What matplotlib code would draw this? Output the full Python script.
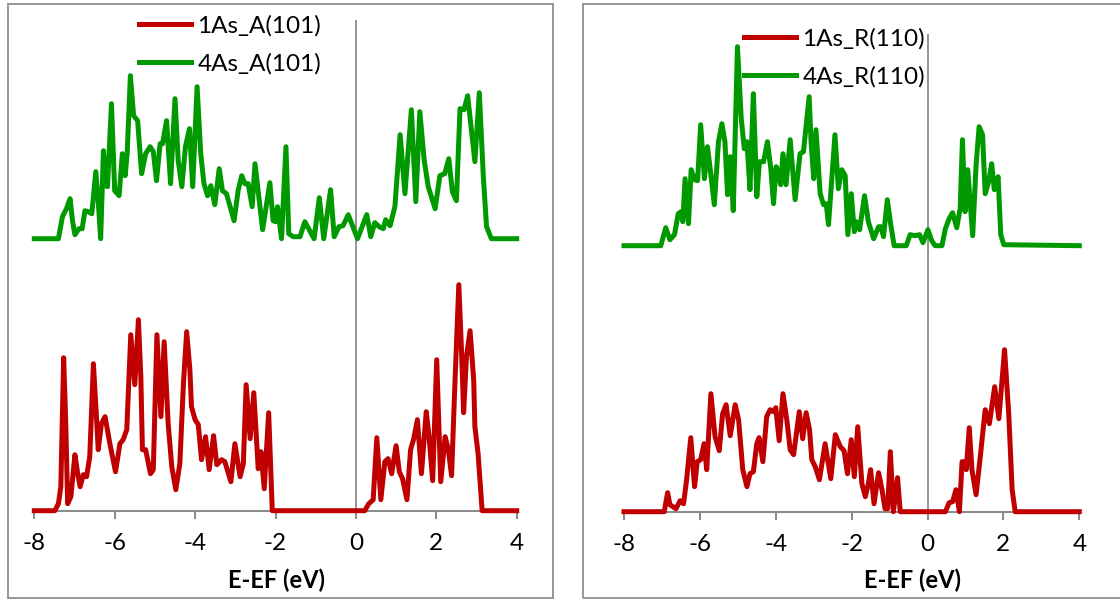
import matplotlib.pyplot as plt
from matplotlib.patches import Rectangle

plt.rcParams['font.family'] = ['Lato', 'DejaVu Sans']
plt.rcParams['axes.unicode_minus'] = False

# energy axis ticks and legend labels
energy_ticks = [-8, -6, -4, -2, 0, 2, 4]
labels_A = ['1As_A(101)', '4As_A(101)']
labels_R = ['1As_R(110)', '4As_R(110)']
xlabel = 'E-EF (eV)'

# vertical shift of the 4As curves (arb. units)
offset_A = 272
offset_R = 266

# (E-EF in eV, DOS in arb. units)
dos_1As_A = [(-8.0, 0), (-7.49, 0), (-7.40, 7), (-7.34, 24), (-7.27, 153), (-7.22, 91), (-7.17, 7),
             (-7.09, 14), (-6.99, 56), (-6.92, 37), (-6.86, 24), (-6.78, 36), (-6.70, 34), (-6.62, 54),
             (-6.53, 147), (-6.45, 91), (-6.41, 61), (-6.33, 87), (-6.24, 94), (-6.12, 67), (-5.98, 39),
             (-5.87, 67), (-5.79, 71), (-5.70, 81), (-5.60, 176), (-5.50, 126), (-5.41, 191), (-5.35, 134),
             (-5.31, 61), (-5.23, 61), (-5.11, 37), (-5.04, 41), (-4.95, 176), (-4.85, 94), (-4.77, 169),
             (-4.67, 87), (-4.58, 44), (-4.48, 21), (-4.38, 47), (-4.29, 127), (-4.21, 179), (-4.13, 141),
             (-4.09, 104), (-4.00, 91), (-3.92, 86), (-3.84, 51), (-3.74, 74), (-3.65, 41), (-3.54, 75),
             (-3.46, 46), (-3.34, 51), (-3.26, 49), (-3.11, 29), (-3.01, 67), (-2.88, 34), (-2.80, 47),
             (-2.73, 126), (-2.63, 72), (-2.54, 118), (-2.43, 42), (-2.36, 59), (-2.28, 22), (-2.17, 98),
             (-2.08, 0), (0.22, 0), (0.32, 7), (0.43, 11), (0.52, 73), (0.62, 11), (0.72, 49), (0.80, 52),
             (0.89, 37), (1.00, 65), (1.08, 39), (1.16, 32), (1.27, 11), (1.36, 61), (1.44, 72), (1.53, 91),
             (1.63, 37), (1.75, 99), (1.82, 74), (1.91, 30), (2.01, 151), (2.11, 29), (2.22, 74), (2.30, 61),
             (2.38, 35), (2.46, 124), (2.56, 226), (2.63, 157), (2.68, 98), (2.75, 154), (2.84, 180),
             (2.93, 131), (2.96, 84), (3.04, 57), (3.14, 0), (4.0, 0)]

dos_4As_A = [(-8.0, 0), (-7.40, 0), (-7.30, 22), (-7.20, 30), (-7.11, 40), (-7.05, 18), (-6.99, 4),
             (-6.89, 10), (-6.81, 10), (-6.74, 28), (-6.66, 27), (-6.57, 25), (-6.47, 67), (-6.41, 38),
             (-6.35, 0), (-6.28, 88), (-6.22, 53), (-6.18, 52), (-6.08, 135), (-6.00, 48), (-5.89, 43),
             (-5.81, 85), (-5.74, 63), (-5.69, 85), (-5.61, 163), (-5.53, 123), (-5.43, 118), (-5.33, 65),
             (-5.23, 85), (-5.12, 92), (-5.04, 87), (-4.96, 58), (-4.87, 95), (-4.81, 95), (-4.71, 118),
             (-4.61, 55), (-4.50, 140), (-4.42, 78), (-4.33, 52), (-4.24, 92), (-4.14, 110), (-4.06, 52),
             (-3.95, 152), (-3.86, 85), (-3.78, 55), (-3.69, 43), (-3.61, 53), (-3.51, 34), (-3.40, 70),
             (-3.32, 48), (-3.22, 45), (-3.03, 18), (-2.93, 48), (-2.84, 63), (-2.76, 55), (-2.68, 55),
             (-2.58, 32), (-2.51, 75), (-2.32, 9), (-2.14, 56), (-2.06, 18), (-2.00, 17), (-1.95, 32),
             (-1.89, 13), (-1.85, 0), (-1.74, 92), (-1.67, 5), (-1.56, 2), (-1.39, 2), (-1.27, 17),
             (-1.04, 0), (-0.91, 41), (-0.80, 0), (-0.63, 49), (-0.54, 2), (-0.42, 12), (-0.32, 13),
             (-0.19, 24), (0.04, 0), (0.27, 24), (0.37, 2), (0.47, 16), (0.58, 12), (0.68, 10), (0.74, 19),
             (0.85, 13), (0.97, 32), (1.10, 104), (1.22, 45), (1.38, 129), (1.49, 37), (1.59, 127),
             (1.70, 78), (1.80, 52), (1.97, 30), (2.09, 63), (2.21, 65), (2.31, 80), (2.40, 47), (2.50, 38),
             (2.59, 130), (2.69, 129), (2.78, 143), (2.96, 77), (3.07, 146), (3.17, 62), (3.25, 12),
             (3.37, 0), (4.0, 0)]

dos_1As_R = [(-8.0, 0), (-6.94, 0), (-6.85, 19), (-6.79, 7), (-6.63, 3), (-6.52, 11), (-6.43, 8),
             (-6.35, 32), (-6.24, 74), (-6.14, 25), (-6.07, 50), (-5.98, 52), (-5.89, 68), (-5.82, 42),
             (-5.71, 118), (-5.60, 75), (-5.49, 61), (-5.40, 98), (-5.31, 107), (-5.20, 76), (-5.07, 107),
             (-4.98, 92), (-4.87, 42), (-4.76, 25), (-4.68, 38), (-4.59, 40), (-4.50, 68), (-4.44, 74),
             (-4.34, 50), (-4.24, 95), (-4.15, 102), (-4.06, 100), (-4.00, 104), (-3.91, 71), (-3.81, 118),
             (-3.71, 92), (-3.62, 62), (-3.53, 57), (-3.38, 100), (-3.29, 73), (-3.20, 99), (-3.11, 82),
             (-3.05, 52), (-2.96, 45), (-2.85, 32), (-2.70, 68), (-2.55, 33), (-2.43, 77), (-2.30, 65),
             (-2.20, 61), (-2.11, 38), (-2.01, 72), (-1.93, 35), (-1.84, 85), (-1.73, 28), (-1.64, 15),
             (-1.56, 28), (-1.50, 42), (-1.41, 8), (-1.29, 39), (-1.20, 22), (-1.12, 3), (-1.05, 3),
             (-0.98, 60), (-0.90, 0), (-0.79, 34), (-0.72, 0), (0.47, 0), (0.57, 9), (0.66, 10), (0.75, 22),
             (0.84, 0), (0.91, 50), (0.97, 50), (1.02, 42), (1.10, 84), (1.17, 42), (1.28, 17), (1.39, 55),
             (1.52, 102), (1.63, 88), (1.77, 125), (1.88, 93), (2.03, 162), (2.14, 98), (2.23, 22),
             (2.31, 0), (4.0, 0)]

dos_4As_R = [(-8.0, 0), (-7.03, 0), (-6.90, 18), (-6.79, 6), (-6.67, 11), (-6.57, 32), (-6.50, 34),
             (-6.45, 24), (-6.39, 67), (-6.30, 22), (-6.23, 76), (-6.14, 66), (-6.06, 65), (-5.98, 121),
             (-5.88, 67), (-5.80, 99), (-5.71, 71), (-5.62, 41), (-5.51, 104), (-5.42, 122), (-5.34, 104),
             (-5.27, 51), (-5.20, 89), (-5.12, 35), (-5.01, 199), (-4.91, 127), (-4.83, 97), (-4.76, 104),
             (-4.68, 56), (-4.59, 152), (-4.50, 49), (-4.43, 84), (-4.32, 84), (-4.22, 104), (-4.13, 77),
             (-4.06, 42), (-3.99, 79), (-3.93, 74), (-3.87, 61), (-3.81, 92), (-3.73, 61), (-3.62, 106),
             (-3.49, 46), (-3.36, 92), (-3.27, 94), (-3.12, 149), (-3.07, 104), (-3.00, 67), (-2.94, 116),
             (-2.83, 52), (-2.74, 41), (-2.67, 42), (-2.61, 21), (-2.44, 111), (-2.35, 57), (-2.26, 76),
             (-2.17, 70), (-2.10, 11), (-2.01, 52), (-1.93, 14), (-1.88, 24), (-1.79, 16), (-1.66, 50),
             (-1.56, 24), (-1.42, 7), (-1.29, 19), (-1.23, 19), (-1.16, 9), (-1.06, 46), (-0.97, 21),
             (-0.88, 0), (-0.56, 0), (-0.46, 11), (-0.33, 10), (-0.21, 11), (-0.12, 3), (0.01, 16),
             (0.11, 5), (0.20, 0), (0.38, 0), (0.47, 17), (0.57, 27), (0.66, 33), (0.77, 18), (0.86, 37),
             (0.92, 106), (0.99, 34), (1.06, 76), (1.19, 10), (1.28, 81), (1.36, 119), (1.45, 111),
             (1.52, 52), (1.61, 64), (1.69, 82), (1.76, 56), (1.86, 69), (1.93, 11), (2.01, 1), (4.0, 0)]

red = '#C00000'
green = '#009A00'
grey = '#8C8C8C'
fs_tick = 17.5
fs_leg = 17.5
lw = 3.6

W, H = 1120, 601
fig = plt.figure(figsize=(W / 100, H / 100), dpi=100)


def panel(x0, x1, y_base, y_top, red_data, green_data, offset, labels, leg_x, leg_y, xlab_x):
    ax = fig.add_axes([x0 / W, (H - y_base) / H, (x1 - x0) / W, (y_base - y_top) / H])
    e1, d1 = zip(*red_data)
    e4, d4 = zip(*green_data)
    l1, = ax.plot(e1, d1, color=red, lw=lw, solid_joinstyle='round', clip_on=False, zorder=3)
    l4, = ax.plot(e4, [d + offset for d in d4], color=green, lw=lw, solid_joinstyle='round',
                  clip_on=False, zorder=3)
    ax.axvline(0, color=grey, lw=1.3, zorder=1)
    ax.set_xlim(-8, 4)
    ax.set_ylim(0, y_base - y_top)
    ax.set_xticks(energy_ticks)
    ax.set_yticks([])
    for s in ['top', 'left', 'right']:
        ax.spines[s].set_visible(False)
    ax.spines['bottom'].set_color(grey)
    ax.spines['bottom'].set_linewidth(1.5)
    ax.tick_params(axis='x', direction='out', length=6, width=1.5, color=grey,
                   labelsize=fs_tick, pad=10)
    ax.patch.set_alpha(0)
    ax.legend([l1, l4], labels, loc='upper left', bbox_to_anchor=(leg_x / W, (H - leg_y) / H),
              bbox_transform=fig.transFigure, frameon=False, fontsize=fs_leg, handlelength=2.15,
              handletextpad=0.25, labelspacing=0.68, borderpad=0, borderaxespad=0)
    fig.text(xlab_x / W, (H - 580.5) / H, xlabel, ha='center', va='center',
             fontsize=17, fontweight='bold')
    return ax


panel(34.3, 516.7, 510.7, 20, dos_1As_A, dos_4As_A, offset_A, labels_A, 139, 15, 276)
panel(624, 1079.3, 511.7, 34, dos_1As_R, dos_4As_R, offset_R, labels_R, 744, 28, 912)

# chart frames
fig.add_artist(Rectangle((8 / W, 3 / H), 545 / W, 594 / H, transform=fig.transFigure,
                         fill=False, ec='#8E8E8E', lw=1.3))
fig.add_artist(Rectangle((583 / W, 3 / H), 560 / W, 594 / H, transform=fig.transFigure,
                         fill=False, ec='#8E8E8E', lw=1.3))

fig.savefig('out.png', dpi=100)
